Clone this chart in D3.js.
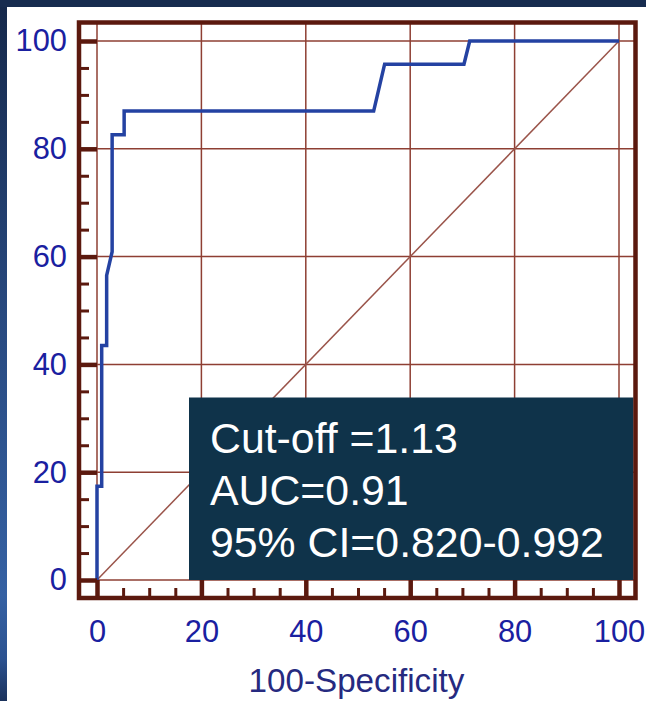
<!DOCTYPE html>
<html>
<head>
<meta charset="utf-8">
<script src="https://cdn.jsdelivr.net/npm/d3@7"></script>
<style>
  html, body { margin: 0; padding: 0; background: #ffffff; }
  svg { display: block; }
</style>
</head>
<body>
<script>
// ROC curve: 100-specificity (x) against sensitivity (y), in percent
const fpr = [0, 0, 0.9, 0.9, 1.85, 1.85, 2.9, 2.9, 5.2, 5.2, 53, 55.1, 70.3, 71.4, 100];
const tpr = [0, 17.4, 17.4, 43.5, 43.5, 56.5, 60.9, 82.6, 82.6, 87, 87, 95.7, 95.7, 100, 100];
const majorTicks = [0, 20, 40, 60, 80, 100];
const minorTicks = [5, 10, 15, 25, 30, 35, 45, 50, 55, 65, 70, 75, 85, 90, 95];
const xTitle = "100-Specificity";
const statLines = ["Cut-off =1.13", "AUC=0.91", "95% CI=0.820-0.992"];

const W = 646, H = 701;
const svg = d3.select("body").append("svg").attr("width", W).attr("height", H);

// slide backdrop: navy strips along the top and left edges
const defs = svg.append("defs");
const lg = defs.append("linearGradient").attr("id", "edgeGrad")
  .attr("x1", 0).attr("y1", 0).attr("x2", 0).attr("y2", 1);
[[0, "#15284a"], [0.45, "#28497f"], [0.85, "#3561a3"], [0.94, "#2c5290"], [1, "#1b325c"]]
  .forEach(([o, c]) => lg.append("stop").attr("offset", o).attr("stop-color", c));
svg.append("rect").attr("x", 0).attr("y", 0).attr("width", W).attr("height", H).attr("fill", "#ffffff");
svg.append("rect").attr("x", 0).attr("y", 0).attr("width", 7).attr("height", H).attr("fill", "url(#edgeGrad)");
svg.append("rect").attr("x", 0).attr("y", 0).attr("width", W).attr("height", 7).attr("fill", "#172c4f");

// frame and scales
const frame = { left: 79, top: 22.5, right: 635.5, bottom: 598 };
const x = d3.scaleLinear().domain([0, 100]).range([97, 619]);
const y = d3.scaleLinear().domain([0, 100]).range([580, 41]);

const gridColor = "#8e3f33";
const frameColor = "#5b190e";
const labelColor = "#1a20a0";

// grid lines across the whole frame
const grid = svg.append("g");
grid.selectAll("line.v").data(majorTicks).join("line")
  .attr("x1", d => x(d)).attr("x2", d => x(d))
  .attr("y1", frame.top).attr("y2", frame.bottom)
  .attr("stroke", gridColor).attr("stroke-width", 1.5);
grid.selectAll("line.h").data(majorTicks).join("line")
  .attr("y1", d => y(d)).attr("y2", d => y(d))
  .attr("x1", frame.left).attr("x2", frame.right)
  .attr("stroke", gridColor).attr("stroke-width", 1.5);

// reference diagonal
svg.append("line")
  .attr("x1", x(0)).attr("y1", y(0)).attr("x2", x(100)).attr("y2", y(100))
  .attr("stroke", "#9a544a").attr("stroke-width", 1.5);

// ROC curve
const pts = fpr.map((v, i) => [v, tpr[i]]);
svg.append("path")
  .datum(pts)
  .attr("fill", "none")
  .attr("stroke", "#2442a2")
  .attr("stroke-width", 3.5)
  .attr("stroke-linejoin", "miter")
  .attr("d", d3.line().x(d => x(d[0])).y(d => y(d[1])));

// statistics box
const box = svg.append("g");
box.append("rect")
  .attr("x", 189).attr("y", 397.5)
  .attr("width", frame.right - 2 - 189).attr("height", y(0) - 397.5)
  .attr("fill", "#0f334a");
box.selectAll("text").data(statLines).join("text")
  .attr("x", 210).attr("y", (d, i) => 452.5 + i * 52)
  .attr("fill", "#ffffff")
  .attr("font-family", "'Liberation Sans', Arial, sans-serif")
  .attr("font-size", 42.8)
  .text(d => d);

// axes: major ticks run from the frame to the zero gridline, minor ticks are shorter
function styleAxis(g, width) {
  g.select(".domain").remove();
  g.selectAll(".tick line").attr("stroke", frameColor).attr("stroke-width", width);
  g.selectAll(".tick text")
    .attr("fill", labelColor)
    .attr("font-family", "'Liberation Sans', Arial, sans-serif")
    .attr("font-size", 30.8);
}

svg.append("g").attr("transform", `translate(${frame.left},0)`)
  .call(d3.axisLeft(y).tickValues(majorTicks).tickSize(-(x(0) - frame.left)).tickPadding(12))
  .call(g => styleAxis(g, 4.5));
svg.append("g").attr("transform", `translate(${frame.left},0)`)
  .call(d3.axisLeft(y).tickValues(minorTicks).tickSize(-10).tickFormat(""))
  .call(g => styleAxis(g, 3));

svg.append("g").attr("transform", `translate(0,${frame.bottom})`)
  .call(d3.axisBottom(x).tickValues(majorTicks).tickSize(-(frame.bottom - y(0))).tickPadding(22.2))
  .call(g => styleAxis(g, 4.5));
svg.append("g").attr("transform", `translate(0,${frame.bottom})`)
  .call(d3.axisBottom(x).tickValues(minorTicks).tickSize(-10).tickFormat(""))
  .call(g => styleAxis(g, 3));

// plot frame
svg.append("rect")
  .attr("x", frame.left).attr("y", frame.top)
  .attr("width", frame.right - frame.left).attr("height", frame.bottom - frame.top)
  .attr("fill", "none").attr("stroke", frameColor).attr("stroke-width", 4.5);

// x axis title
svg.append("text")
  .attr("x", 356.5).attr("y", 692)
  .attr("text-anchor", "middle")
  .attr("fill", "#262a80")
  .attr("font-family", "'Liberation Sans', Arial, sans-serif")
  .attr("font-size", 33.2)
  .text(xTitle);
</script>
</body>
</html>
